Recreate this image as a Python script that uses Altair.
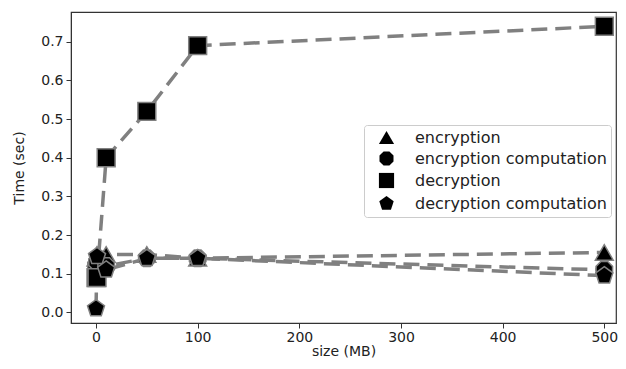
import altair as alt
import pandas as pd

# ---- data ----
sizes = [0.001, 1, 10, 50, 100, 500]
series_names = ["encryption", "encryption computation", "decryption", "decryption computation"]
encryption = [0.14, 0.15, 0.15, 0.15, 0.14, 0.155]
encryption_comp = [0.12, 0.13, 0.12, 0.14, 0.14, 0.11]
decryption = [0.09, 0.09, 0.40, 0.52, 0.69, 0.74]
decryption_comp = [0.01, 0.145, 0.11, 0.14, 0.14, 0.095]
x_ticks = [0, 100, 200, 300, 400, 500]
y_ticks = [0.0, 0.1, 0.2, 0.3, 0.4, 0.5, 0.6, 0.7]

rows = []
for name, vals in zip(series_names, [encryption, encryption_comp, decryption, decryption_comp]):
    for s, v in zip(sizes, vals):
        rows.append({"series": name, "size": s, "time": v})
df = pd.DataFrame(rows)

pentagon = "M0,-1L0.951,-0.309L0.588,0.809L-0.588,0.809L-0.951,-0.309Z"
octagon = ("M0.383,-0.924L0.924,-0.383L0.924,0.383L0.383,0.924L-0.383,0.924"
           "L-0.924,0.383L-0.924,-0.383L-0.383,-0.924Z")

FONT = "DejaVu Sans"
GRAY = "#808080"

x_enc = alt.X("size:Q", title="size (MB)",
              scale=alt.Scale(domain=[-24.6, 511.5], nice=False, zero=False),
              axis=alt.Axis(values=x_ticks, format="d"))
y_enc = alt.Y("time:Q", title="Time (sec)",
              scale=alt.Scale(domain=[-0.0275, 0.777], nice=False, zero=False),
              axis=alt.Axis(values=y_ticks, format=".1f"))

lines = alt.Chart(df).mark_line(
    color=GRAY, strokeWidth=3.5, strokeDash=[16, 8]
).encode(x=x_enc, y=y_enc, detail="series:N", order="size:Q")

points = alt.Chart(df).mark_point(
    filled=True, fill="black", stroke=GRAY, strokeWidth=1.5, size=320, opacity=1
).encode(
    x=x_enc, y=y_enc,
    shape=alt.Shape("series:N",
                    scale=alt.Scale(domain=series_names,
                                    range=["triangle-up", octagon, "square", pentagon]),
                    legend=alt.Legend(title=None, orient="none", legendX=293, legendY=113,
                                      symbolFillColor="black", symbolStrokeColor=GRAY,
                                      symbolStrokeWidth=1.5, symbolSize=230,
                                      symbolOffset=10,
                                      labelFontSize=16, labelFont=FONT, labelColor="#222",
                                      labelLimit=400, labelOffset=20, padding=4,
                                      rowPadding=0,
                                      strokeColor="#cccccc", fillColor="white",
                                      cornerRadius=3))
)

chart = (lines + points).properties(
    width=545, height=311,
    autosize=alt.AutoSizeParams(type="none"),
    padding={"left": 63, "top": 4, "right": 2, "bottom": 38},
).configure_view(
    stroke="#333333", strokeWidth=1.2
).configure_axis(
    grid=False, domainColor="#333333", tickColor="#333333", tickSize=5,
    labelFont=FONT, labelFontSize=14, labelColor="#222222", labelPadding=2,
    titleFont=FONT, titleFontSize=14, titleFontWeight="normal", titleColor="#222222",
).configure_axisY(titlePadding=14, labelPadding=3).configure_axisX(titlePadding=0)

chart.save("out.html", embed_options={"renderer": "svg", "actions": False})
